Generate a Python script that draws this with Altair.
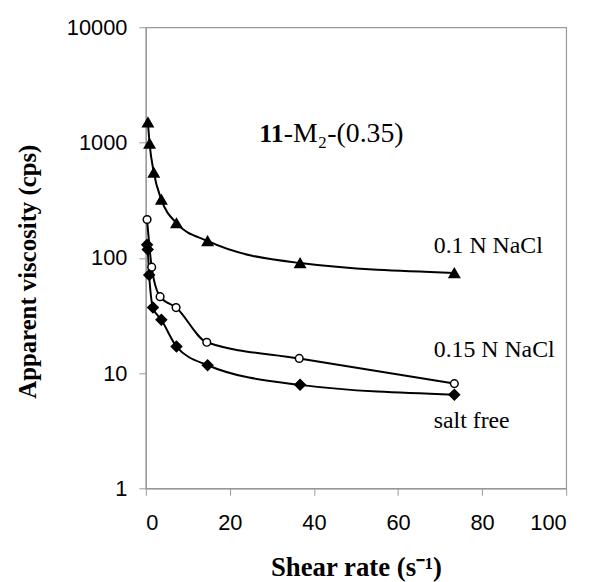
import altair as alt
import pandas as pd

# 0.1 N NaCl (filled triangles)
tri_x = [0.5, 0.9, 1.9, 3.7, 7.3, 14.7, 36.7, 73.4]
tri_y = [1500, 980, 550, 320, 200, 140, 90, 74]
# 0.15 N NaCl (open circles)
cir_x = [0.3, 1.4, 3.4, 7.2, 14.5, 36.5, 73.4]
cir_y = [215, 83, 46, 37, 18.5, 13.4, 8.1]
# salt free (filled diamonds)
dia_x = [0.3, 0.45, 0.8, 1.7, 3.7, 7.3, 14.7, 36.7, 73.4]
dia_y = [130, 118, 71, 37, 29, 17, 11.7, 7.9, 6.5]

series_names = ["0.1 N NaCl", "0.15 N NaCl", "salt free"]
x_ticks = [0, 20, 40, 60, 80, 100]
y_ticks = [1, 10, 100, 1000, 10000]

label_x = [68.5, 68.5, 68.5]
label_y = [110, 13.7, 3.36]

rows = []
for name, xs, ys in zip(series_names, [tri_x, cir_x, dia_x], [tri_y, cir_y, dia_y]):
    for i, (a, b) in enumerate(zip(xs, ys)):
        rows.append({"series": name, "shear": a, "visc": b, "ord": i})
df = pd.DataFrame(rows)
labels_df = pd.DataFrame({"series": series_names, "shear": label_x, "visc": label_y})
ann_df = pd.DataFrame({"shear": [32.8], "visc": [1020]})

xs = alt.Scale(domain=[0, 100], nice=False, zero=False)
ys = alt.Scale(type="log", domain=[1, 10000], nice=False)

x_enc = alt.X("shear:Q", scale=xs,
              axis=alt.Axis(values=x_ticks, title="Shear rate  (s⁻¹)",
                            labelBaseline="alphabetic", labelPadding=35,
                            titleBaseline="alphabetic", titleY=88, titleFontSize=27))
y_enc = alt.Y("visc:Q", scale=ys,
              axis=alt.Axis(values=y_ticks, format="d", title="Apparent viscosity (cps)",
                            labelPadding=12, titleBaseline="alphabetic",
                            titleX=-111, titleY=246, titleAngle=270))

lines = alt.Chart(df).mark_line(color="black", strokeWidth=2, interpolate="monotone").encode(
    x=x_enc, y=y_enc, detail="series:N", order="ord:Q")

def pts(name, shape, fill, size):
    return alt.Chart(df).transform_filter(alt.datum.series == name).mark_point(
        shape=shape, filled=True, fill=fill, stroke="black", strokeWidth=1.5, opacity=1, size=size
    ).encode(x="shear:Q", y="visc:Q")

p_tri = pts(series_names[0], "triangle-up", "black", 110)
p_cir = pts(series_names[1], "circle", "white", 60)
p_dia = pts(series_names[2], "diamond", "black", 110)

labels = alt.Chart(labels_df).mark_text(align="left", baseline="alphabetic", font="Liberation Serif",
                                        fontSize=24, color="black").encode(
    x="shear:Q", y="visc:Q", text="series:N")

ann1 = alt.Chart(ann_df).mark_text(align="right", baseline="alphabetic", font="Liberation Serif",
                                   fontSize=26, fontWeight="bold", color="black", text="11").encode(
    x="shear:Q", y="visc:Q")
ann2 = alt.Chart(ann_df).mark_text(align="left", baseline="alphabetic", font="Liberation Serif",
                                   fontSize=28, color="black", text="-M₂-(0.35)").encode(
    x="shear:Q", y="visc:Q")

chart = alt.layer(lines, p_tri, p_cir, p_dia, labels, ann1, ann2).properties(
    width=424, height=465,
    autosize=alt.AutoSizeParams(type="none"),
    padding={"left": 139, "top": 17, "right": 20, "bottom": 92},
).configure_view(stroke="#999999", strokeWidth=1.2).configure_axis(
    grid=False, domainColor="#999999", domainWidth=1.2, tickColor="#999999", tickSize=7,
    labelFont="Liberation Sans", labelFontSize=22, labelColor="black",
    titleFont="Liberation Serif", titleFontWeight="bold", titleFontSize=25, titleColor="black",
)

chart.save("out.html", embed_options={"renderer": "svg", "actions": False})
